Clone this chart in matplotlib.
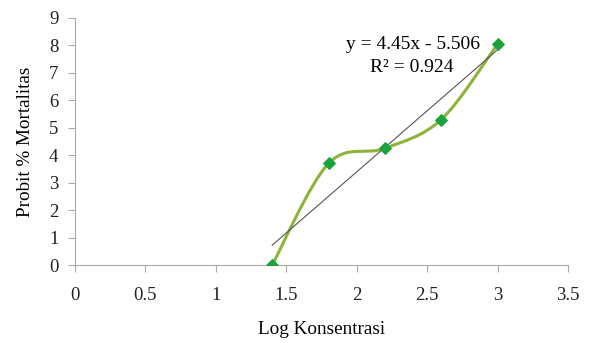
import numpy as np
import matplotlib.pyplot as plt
from matplotlib.path import Path
from matplotlib.patches import PathPatch

# data
log_konsentrasi = [1.4, 1.8, 2.2, 2.6, 3.0]
probit = [0.0, 3.7, 4.25, 5.3, 8.05]
slope, intercept = 4.45, -5.506
r2 = 0.924

plt.rcParams['font.family'] = ['Liberation Serif', 'DejaVu Serif']

fig = plt.figure(figsize=(5.91, 3.43), dpi=100)
ax = fig.add_axes([75 / 591, 78 / 343, 493 / 591, 247 / 343])

# smoothed line (Excel-style bezier through the points)
x = np.array(log_konsentrasi)
y = np.array(probit)
verts = [(x[0], y[0])]
codes = [Path.MOVETO]
for i in range(len(x) - 1):
    x0, y0 = (x[i - 1], y[i - 1]) if i > 0 else (x[i], y[i])
    x3, y3 = (x[i + 2], y[i + 2]) if i + 2 < len(x) else (x[i + 1], y[i + 1])
    c1 = (x[i] + (x[i + 1] - x0) / 6, y[i] + (y[i + 1] - y0) / 6)
    c2 = (x[i + 1] - (x3 - x[i]) / 6, y[i + 1] - (y3 - y[i]) / 6)
    verts += [c1, c2, (x[i + 1], y[i + 1])]
    codes += [Path.CURVE4] * 3
ax.add_patch(PathPatch(Path(verts, codes), facecolor='none',
                       edgecolor='#8db33a', lw=2.2, zorder=2))

# linear trend line
xt = np.array([x.min(), x.max()])
ax.plot(xt, slope * xt + intercept, color='#555555', lw=0.8, zorder=3)

ax.scatter(x, y, marker='D', s=34, color='#1aa33c', zorder=4)

ax.text(2.4, 8.02, 'y = 4.45x - 5.506', ha='center', va='center', fontsize=14)
ax.text(2.39, 7.18, 'R² = 0.924', ha='center', va='center', fontsize=14)

ax.set_xlim(0, 3.5)
ax.set_ylim(0, 9)
ax.set_xticks(np.arange(0, 3.51, 0.5))
ax.set_xticklabels(['0', '0.5', '1', '1.5', '2', '2.5', '3', '3.5'])
ax.set_yticks(range(10))
for s in ['top', 'right']:
    ax.spines[s].set_visible(False)
for s in ['left', 'bottom']:
    ax.spines[s].set_color('#aaaaaa')
ax.tick_params(colors='#aaaaaa', labelcolor='#222222', labelsize=13.5, length=5)
ax.tick_params(axis='x', pad=11)
ax.tick_params(axis='y', pad=7)
ax.set_xlabel('Log Konsentrasi', fontsize=13.8, labelpad=12)
ax.set_ylabel('Probit % Mortalitas', fontsize=13.8, labelpad=11)

fig.savefig('out.png', dpi=100)
